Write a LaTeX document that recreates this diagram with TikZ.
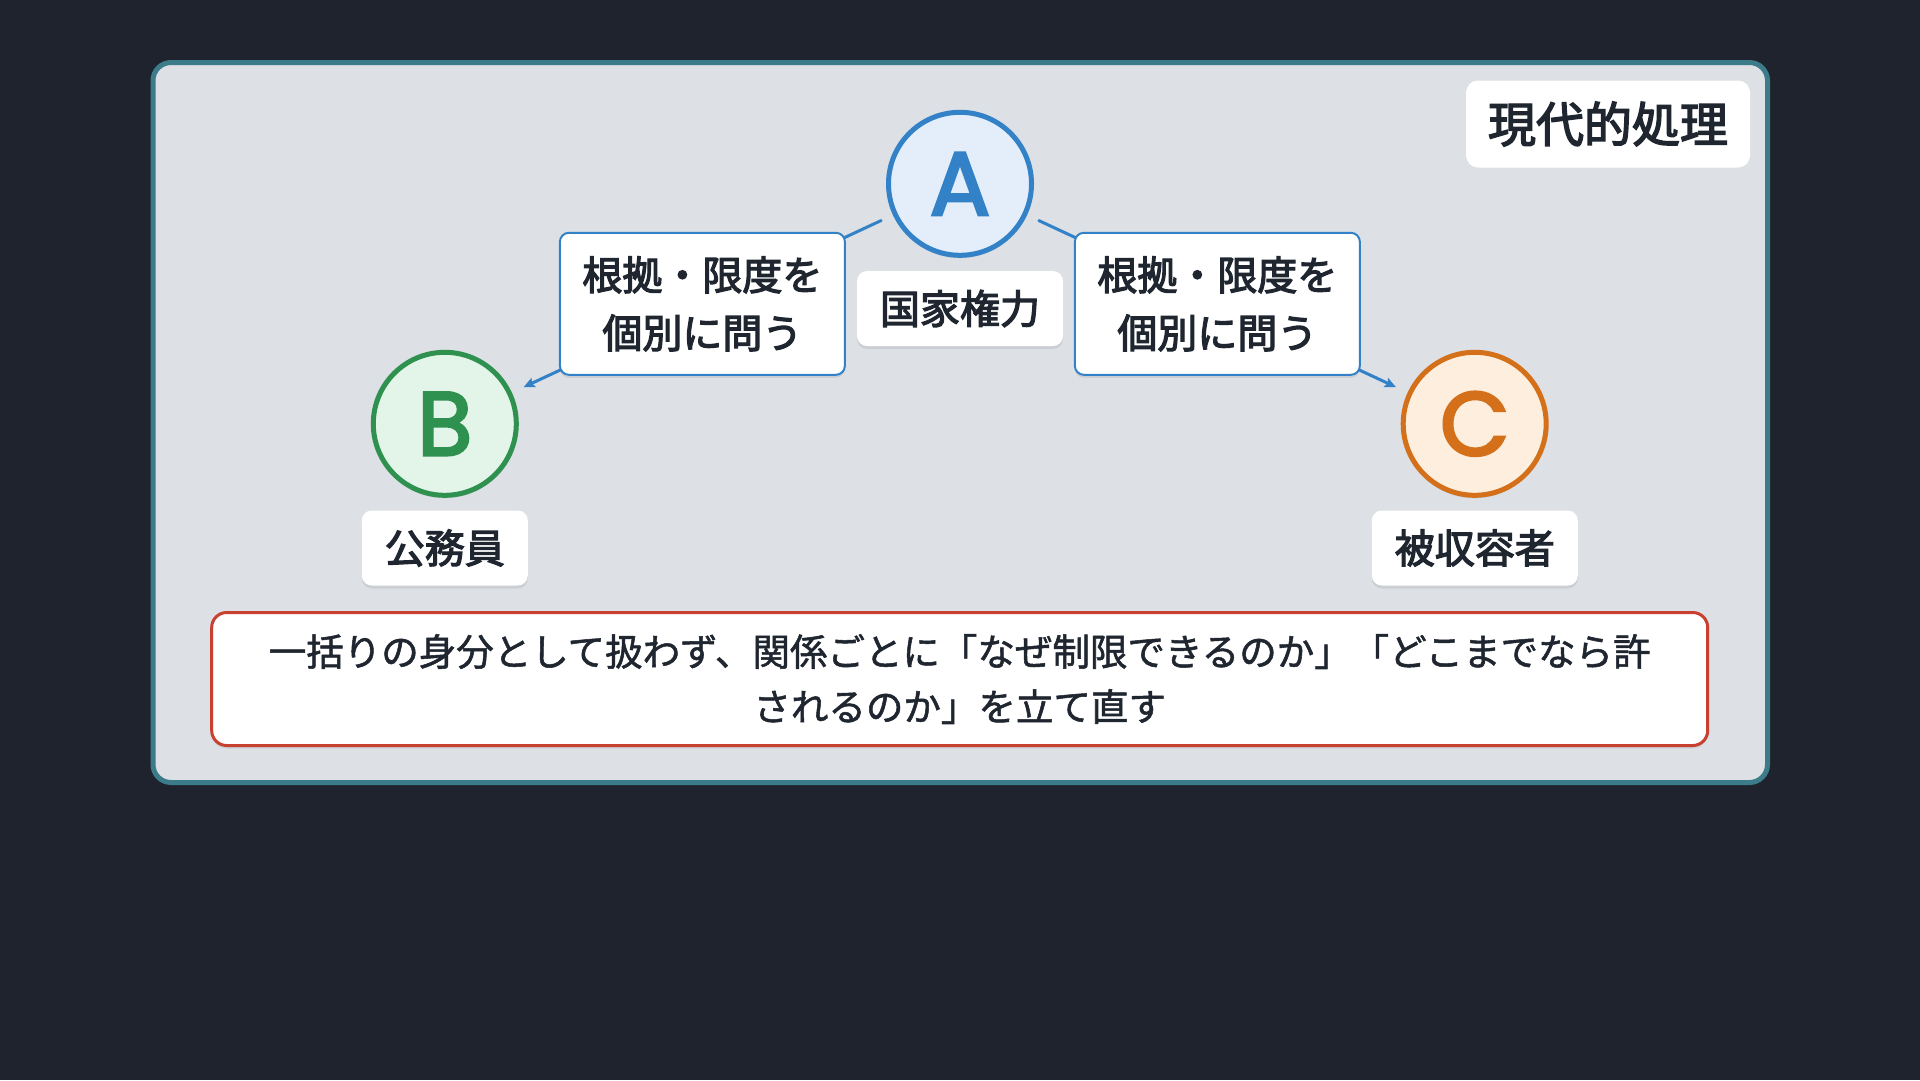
\documentclass[tikz,border=0pt]{standalone}
\usepackage{fontspec}
\setmainfont{Noto Sans CJK JP}
\newfontfamily\medfont[FakeBold=3]{Noto Sans CJK JP}
\newfontfamily\notefont[FakeBold=1.4]{Noto Sans CJK JP}
\newfontfamily\letterfont[FakeBold=3]{Poppins}
\usetikzlibrary{shadows,arrows.meta}
\definecolor{bgc}{HTML}{1E232D}
\definecolor{panelline}{HTML}{3B7B8A}
\definecolor{panelfill}{HTML}{DDE0E5}
\definecolor{blueC}{HTML}{3382C8}
\definecolor{blueL}{HTML}{E3EEFA}
\definecolor{greenC}{HTML}{2E9150}
\definecolor{greenL}{HTML}{E3F5E8}
\definecolor{orangeC}{HTML}{D4701A}
\definecolor{orangeL}{HTML}{FDEEDD}
\definecolor{redC}{HTML}{C84130}
\definecolor{txt}{HTML}{1F2630}
\tikzset{
  softshadow/.style={drop shadow={shadow xshift=0pt, shadow yshift=-3pt, opacity=0.08, fill=black}},
  panelbox/.style={draw=panelline, line width=5pt, fill=panelfill, rounded corners=18pt, inner sep=0pt},
  bignode/.style={circle, line width=5pt, minimum size=143pt, inner sep=0pt, softshadow,
     font=\letterfont\fontsize{90}{90}\selectfont},
  namebox/.style={fill=white, rounded corners=10pt, inner xsep=23pt, inner ysep=0pt, minimum height=75pt,
     text=txt, font=\medfont\fontsize{40}{48}\selectfont, softshadow},
  elabel/.style={draw=blueC, line width=2pt, fill=white, rounded corners=9pt, align=center,
     minimum width=285pt, minimum height=142pt, inner sep=0pt, text=txt,
     font=\medfont\fontsize{40}{58}\selectfont, softshadow},
  edgeline/.style={draw=blueC, line width=3pt, line cap=round,
     -{Stealth[length=11pt,width=10pt,inset=2pt]}, shorten <=13pt, shorten >=13pt},
  titlebox/.style={fill=white, rounded corners=12pt, minimum width=284pt, minimum height=87pt,
     inner sep=0pt, text=txt, font=\medfont\fontsize{48}{56}\selectfont},
  notebox/.style={draw=redC, line width=3pt, fill=white, rounded corners=15pt, align=center,
     minimum width=1496pt, minimum height=133pt, inner sep=0pt, text=txt,
     font=\notefont\fontsize{37.5}{55}\selectfont, softshadow},
}
\begin{document}
\begin{tikzpicture}[x=1pt,y=-1pt]
\useasboundingbox[fill=bgc] (0,0) rectangle (1920,1080);
\node[panelbox, minimum width=1614.5pt, minimum height=720pt] (panel) at (960.25,422.5) {};
\node[titlebox] (title) at (1608,124) {現代的処理};
\node[bignode, draw=blueC, fill=blueL, text=blueC] (A) at (960,183.8) {A};
\node[bignode, draw=greenC, fill=greenL, text=greenC] (B) at (444.8,423.8) {B};
\node[bignode, draw=orangeC, fill=orangeL, text=orangeC] (C) at (1474.7,423.8) {C};
\node[namebox] (lA) at (960,308.5) {国家権力};
\node[namebox] (lB) at (444.8,548) {公務員};
\node[namebox] (lC) at (1474.8,548) {被収容者};
\draw[edgeline] (A) -- (B) node[midway, elabel] (eAB) {根拠・限度を\\個別に問う};
\draw[edgeline] (A) -- (C) node[midway, elabel] (eAC) {根拠・限度を\\個別に問う};
\node[notebox] (note) at (959.7,679) {一括りの身分として扱わず、関係ごとに「なぜ制限できるのか」「どこまでなら許\\されるのか」を立て直す};
\end{tikzpicture}
\end{document}
